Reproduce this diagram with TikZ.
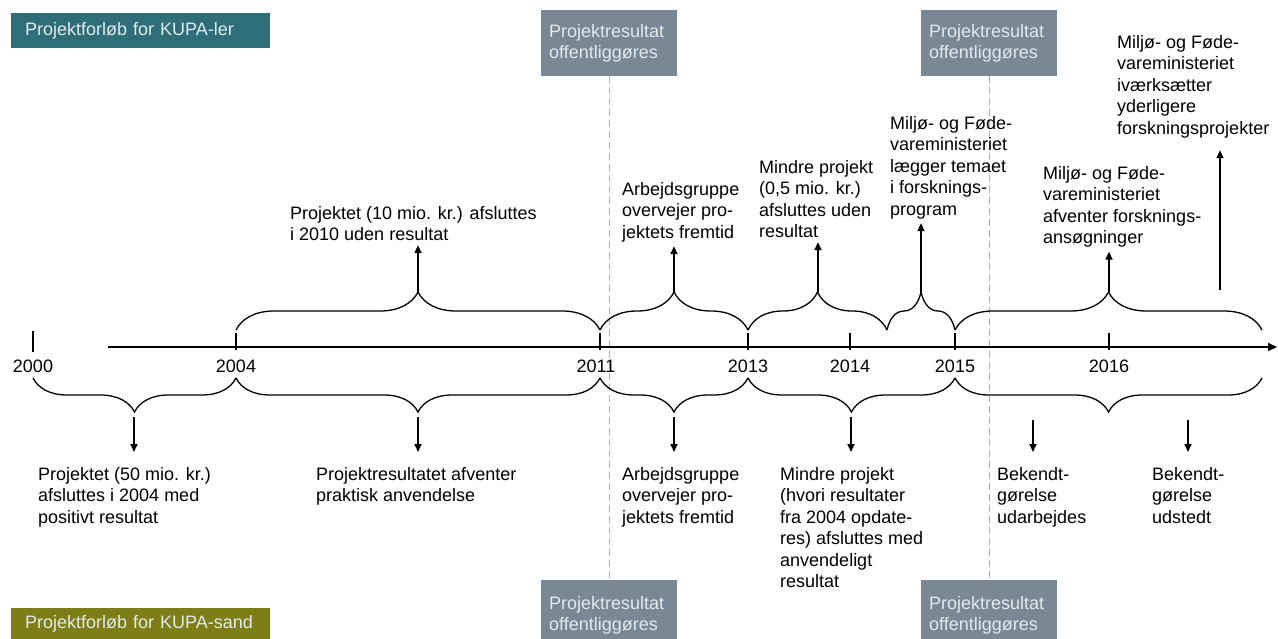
\documentclass[tikz,border=0pt]{standalone}
\usepackage{fontspec}
\setmainfont{Liberation Sans}
\usepackage{xcolor}
\usepackage{tikz}
\usetikzlibrary{positioning,arrows.meta,decorations.pathreplacing}

\definecolor{kupateal}{HTML}{2E6E78}
\definecolor{kupaolive}{HTML}{7D7E16}
\definecolor{resgray}{HTML}{7A8794}
\definecolor{boxtext}{HTML}{E2EAEC}

\begin{document}
\begin{tikzpicture}[x=1pt, y=-1pt, font=\fontsize{18}{21.5}\selectfont,
    txt/.style={align=left, inner sep=2pt},
    kupa/.style={anchor=north west, text width=231pt, inner xsep=14pt, inner ysep=0pt, align=left, text=boxtext},
    result/.style={anchor=north west, fill=resgray, text=boxtext, text width=120pt, inner xsep=8pt, align=left},
    upbrace/.style={decorate, decoration={brace, amplitude=38pt}, line width=1.3pt},
    downbrace/.style={decorate, decoration={brace, mirror, amplitude=34pt}, line width=1.3pt},
    arr/.style={-{Triangle[length=8pt, width=7pt]}, line width=1.6pt},
    dashline/.style={gray!60, line width=0.9pt, dash pattern=on 7pt off 4pt}]
    \useasboundingbox (0,0) rectangle (1278,638);

    % Project boxes
    \node[kupa, fill=kupateal, minimum height=35pt] (ler) at (11,13) {Projektforløb for KUPA-ler};
    \node[kupa, fill=kupaolive, minimum height=32pt] (sand) at (11,608) {Projektforløb for KUPA-sand};

    \node[result, minimum height=66pt] (r1) at (541,10) {Projektresultat\\offentliggøres};
    \node[result, minimum height=66pt] (r2) at (921,10) {Projektresultat\\offentliggøres};
    \node[result, minimum height=70pt] (r3) at (541,580) {Projektresultat\\offentliggøres};
    \node[result, minimum height=70pt] (r4) at (921,580) {Projektresultat\\offentliggøres};
    \draw[dashline] (r1.south) -- (r3.north);
    \draw[dashline] (r2.south) -- (r4.north);

    % Time axis
    \coordinate (axL) at (108,347);
    \coordinate (axR) at (1277,347);
    \draw[line width=1.8pt, -{Triangle[length=9pt, width=8pt]}] (axL) -- (axR);
    \coordinate (k2000) at (33,347);
    \draw[line width=1.4pt] (33,331) -- (33,352);
    \node (y2000) at (33,366) {2000};
    \foreach \x/\yr/\lx in {236/2004/236, 600/2011/596, 748/2013/748, 850/2014/850, 955/2015/955, 1109/2016/1109} {
        \coordinate (k\yr) at (\x,347);
        \draw[line width=1.4pt] (\x,333) -- (\x,350);
        \node (y\yr) at (\lx,366) {\yr};
    }
    \coordinate (m1) at (887,347);
    \coordinate (m2) at (1262,347);

    % Braces above the axis (KUPA-ler)
    \draw[upbrace] ([yshift=17pt]k2004) -- ([yshift=17pt]k2011);
    \draw[upbrace] ([yshift=17pt]k2011) -- ([yshift=17pt]k2013);
    \draw[upbrace] ([yshift=17pt]k2013) -- ([yshift=17pt]m1);
    \draw[upbrace] ([yshift=17pt]m1) -- ([yshift=17pt]k2015);
    \draw[upbrace] ([yshift=17pt]k2015) -- ([yshift=17pt]m2);

    \coordinate (t1) at (418,292);
    \coordinate (t2) at (674,292);
    \coordinate (t3) at (818,292);
    \coordinate (t4) at (921,292);
    \coordinate (t5) at (1109,292);
    \coordinate (t6) at (1220,290);

    \node[txt, anchor=north west] (p10) at (288,204) {Projektet (10 mio. kr.) afsluttes\\i 2010 uden resultat};
    \node[txt, anchor=north west] (arb1) at (620,180) {Arbejdsgruppe\\overvejer pro-\\jektets fremtid};
    \node[txt, anchor=north west] (mindre1) at (757,158) {Mindre projekt\\(0,5 mio. kr.)\\afsluttes uden\\resultat};
    \node[txt, anchor=north west] (milj1) at (888,114) {Miljø- og Føde-\\vareministeriet\\lægger temaet\\i forsknings-\\program};
    \node[txt, anchor=north west] (milj2) at (1041,164) {Miljø- og Føde-\\vareministeriet\\afventer forsknings-\\ansøgninger};
    \node[txt, anchor=north west] (milj3) at (1115,33) {Miljø- og Føde-\\vareministeriet\\iværksætter\\yderligere\\forskningsprojekter};

    \draw[arr, shorten >=2pt] (t1) -- (t1 |- p10.south);
    \draw[arr, shorten >=2pt] (t2) -- (t2 |- arb1.south);
    \draw[arr, shorten >=2pt] (t3) -- (t3 |- mindre1.south);
    \draw[arr, shorten >=2pt] (t4) -- (t4 |- milj1.south);
    \draw[arr, shorten >=2pt] (t5) -- (t5 |- milj2.south);
    \draw[arr, shorten >=10pt] (t6) -- (t6 |- milj3.south);

    % Braces below the axis (KUPA-sand)
    \draw[downbrace] ([yshift=-31pt]k2000) -- ([yshift=-31pt]k2004);
    \draw[downbrace] ([yshift=-31pt]k2004) -- ([yshift=-31pt]k2011);
    \draw[downbrace] ([yshift=-31pt]k2011) -- ([yshift=-31pt]k2013);
    \draw[downbrace] ([yshift=-31pt]k2013) -- ([yshift=-31pt]k2015);
    \draw[downbrace] ([yshift=-31pt]k2015) -- ([yshift=-31pt]m2);

    \coordinate (b1) at (134,412);
    \coordinate (b2) at (418,412);
    \coordinate (b3) at (674,412);
    \coordinate (b4) at (851,412);
    \coordinate (b5) at (1033,420);
    \coordinate (b6) at (1188,420);

    \node[txt, anchor=north west] (p50) at (36,465) {Projektet (50 mio. kr.)\\afsluttes i 2004 med\\positivt resultat};
    \node[txt, anchor=north west] (praks) at (314,465) {Projektresultatet afventer\\praktisk anvendelse};
    \node[txt, anchor=north west] (arb2) at (620,465) {Arbejdsgruppe\\overvejer pro-\\jektets fremtid};
    \node[txt, anchor=north west] (mindre2) at (778,465) {Mindre projekt\\(hvori resultater\\fra 2004 opdate-\\res) afsluttes med\\anvendeligt\\resultat};
    \node[txt, anchor=north west] (bek1) at (995,465) {Bekendt-\\gørelse\\udarbejdes};
    \node[txt, anchor=north west] (bek2) at (1150,465) {Bekendt-\\gørelse\\udstedt};

    \draw[arr, shorten <=5pt, shorten >=13pt] (b1) -- (b1 |- p50.north);
    \draw[arr, shorten <=5pt, shorten >=13pt] (b2) -- (b2 |- praks.north);
    \draw[arr, shorten <=5pt, shorten >=13pt] (b3) -- (b3 |- arb2.north);
    \draw[arr, shorten <=5pt, shorten >=13pt] (b4) -- (b4 |- mindre2.north);
    \draw[arr, shorten >=13pt] (b5) -- (b5 |- bek1.north);
    \draw[arr, shorten >=13pt] (b6) -- (b6 |- bek2.north);
\end{tikzpicture}
\end{document}
